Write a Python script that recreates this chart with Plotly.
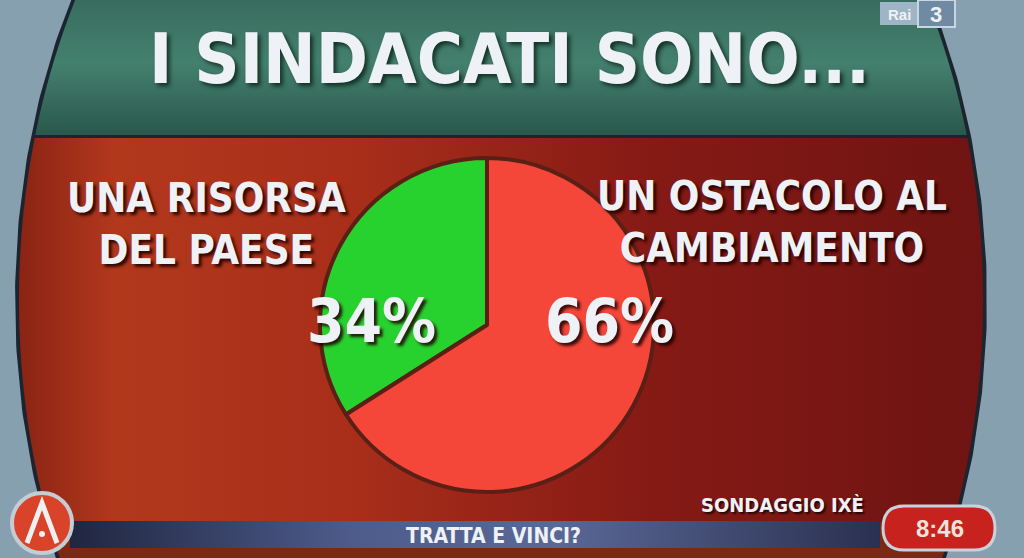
import numpy as np
import plotly.graph_objects as go

# ---------------- data ----------------
title = "I SINDACATI SONO..."
categories = ["UNA RISORSA DEL PAESE", "UN OSTACOLO AL CAMBIAMENTO"]
label_lines = [["UNA RISORSA", "DEL PAESE"], ["UN OSTACOLO AL", "CAMBIAMENTO"]]
values = [34, 66]
slice_colors = ["#27d22e", "#f4473a"]
source = "SONDAGGIO IXÈ"
bottom_text = "TRATTA E VINCI?"
clock = "8:46"

W, H = 1024, 558
FONT = "DejaVu Sans Condensed, Liberation Sans Narrow, Arial Narrow, sans-serif"
WHITE = "#eef2f6"
SHADOW = "3px 3px 3px rgba(30,0,0,0.85)"

fig = go.Figure()

# ---------------- decorative background (pixel axes) ----------------
cx, cy, a, b = 501, 300, 482, 640


def ell_x(y):
    return a * np.sqrt(np.clip(1 - ((y - cy) / b) ** 2, 0, 1))


def band(y0, y1, n=60):
    ys = np.linspace(y0, y1, n)
    dx = ell_x(ys)
    xs = np.concatenate([cx - dx, (cx + dx)[::-1]])
    yy = np.concatenate([ys, ys[::-1]])
    return xs, yy


# dark rim of the frame
xs, ys = band(-10, 570, 120)
fig.add_trace(go.Scatter(x=xs, y=ys, fill="toself", mode="lines",
                         line=dict(color="#1c2430", width=8),
                         fillcolor="#1c2430", hoverinfo="skip", showlegend=False))
# green title area
xs, ys = band(-10, 135)
fig.add_trace(go.Scatter(x=xs, y=ys, fill="toself", mode="none",
                         fillgradient=dict(type="vertical", colorscale=[[0, "#2a584c"], [0.5, "#44806e"], [1, "#366a5c"]]),
                         hoverinfo="skip", showlegend=False))
# red panel
xs, ys = band(138, 522)
fig.add_trace(go.Scatter(x=xs, y=ys, fill="toself", mode="none",
                         fillgradient=dict(type="horizontal",
                                           colorscale=[[0, "#8a2414"], [0.1, "#b2381c"], [0.35, "#a82e1a"],
                                                       [0.65, "#861a15"], [1, "#6e1412"]]),
                         hoverinfo="skip", showlegend=False))
# bottom strip
xs, ys = band(522, 570)
fig.add_trace(go.Scatter(x=xs, y=ys, fill="toself", mode="none", fillcolor="#7a2a14",
                         hoverinfo="skip", showlegend=False))
# bottom bar
bx = [70, 880, 880, 70, 70]
by = [521, 521, 548, 548, 521]
fig.add_trace(go.Scatter(x=bx, y=by, fill="toself", mode="none",
                         fillgradient=dict(type="horizontal",
                                           colorscale=[[0, "#202640"], [0.35, "#4e5c8c"], [0.6, "#5a6896"], [1, "#2a3050"]]),
                         hoverinfo="skip", showlegend=False))

# ---------------- pie ----------------
# first slice (green) ends at 12 o'clock, lying on the left side
start_rot = -360.0 * values[0] / sum(values)
fig.add_trace(go.Pie(
    labels=categories, values=values, sort=False, direction="clockwise", rotation=start_rot,
    marker=dict(colors=slice_colors, line=dict(color="#5a2016", width=4)),
    textinfo="none", hoverinfo="label+percent", showlegend=False,
    domain=dict(x=[320 / W, 654 / W], y=[1 - 492 / H, 1 - 158 / H]),
))

# ---------------- shapes ----------------
shapes = []
# logo
shapes.append(dict(type="circle", xref="x", yref="y", x0=12, x1=72, y0=493, y1=553,
                   fillcolor="#d8432a", line=dict(color="#c4ccd4", width=4), layer="above"))
shapes.append(dict(type="path", xref="x", yref="y", path="M 27,543 L 42,503 L 57,543",
                   line=dict(color="#f0f0f0", width=5), layer="above"))
shapes.append(dict(type="circle", xref="x", yref="y", x0=39, x1=45, y0=531, y1=537,
                   fillcolor="#f0f0f0", line=dict(width=0), layer="above"))
# clock pill
shapes.append(dict(type="path", xref="x", yref="y",
                   path="M 904,506 L 974,506 Q 995,506 995,528 Q 995,550 974,550 L 904,550 "
                        "Q 883,550 883,528 Q 883,506 904,506 Z",
                   fillcolor="#c8221e", line=dict(color="#c8d2dc", width=3), layer="above"))
# Rai 3 logo
shapes.append(dict(type="rect", xref="x", yref="y", x0=880, x1=918, y0=2, y1=25,
                   fillcolor="#9fb4c4", line=dict(width=0), layer="above"))
shapes.append(dict(type="rect", xref="x", yref="y", x0=918, x1=955, y0=0, y1=27,
                   fillcolor="#6f8aa2", line=dict(color="#c8d6e2", width=2), layer="above"))

# ---------------- annotations ----------------
ann = []
ann.append(dict(text=f"<b>{title}</b>", x=509, y=59, xref="x", yref="y", showarrow=False,
                font=dict(family=FONT, size=70, color=WHITE, shadow="3px 3px 4px rgba(0,20,10,0.7)")))

label_pos = [(206, 224), (772, 222)]
for lines, (lx, ly) in zip(label_lines, label_pos):
    ann.append(dict(text="<br>".join(f"<b>{ln}</b>" for ln in lines), x=lx, y=ly, xref="x", yref="y",
                    showarrow=False, align="center",
                    font=dict(family=FONT, size=40, color=WHITE, shadow=SHADOW)))

pct_pos = [(371, 321), (609, 321)]
for v, (px, py) in zip(values, pct_pos):
    ann.append(dict(text=f"<b>{v}%</b>", x=px, y=py, xref="x", yref="y", showarrow=False,
                    font=dict(family=FONT, size=60, color=WHITE, shadow=SHADOW)))

ann.append(dict(text=f"<b>{source}</b>", x=782, y=505, xref="x", yref="y", showarrow=False,
                font=dict(family=FONT, size=20, color=WHITE, shadow="2px 2px 2px rgba(0,0,0,0.7)")))
ann.append(dict(text=f"<b>{bottom_text}</b>", x=493, y=536, xref="x", yref="y", showarrow=False,
                font=dict(family=FONT, size=21, color=WHITE)))
ann.append(dict(text=f"<b>{clock}</b>", x=940, y=528, xref="x", yref="y", showarrow=False,
                font=dict(family="Liberation Sans, Arial, sans-serif", size=24, color="#ece4dc")))
ann.append(dict(text="<b>Rai</b>", x=899, y=14, xref="x", yref="y", showarrow=False,
                font=dict(family="Liberation Sans, Arial, sans-serif", size=15, color="#eef2f6")))
ann.append(dict(text="<b>3</b>", x=936, y=14, xref="x", yref="y", showarrow=False,
                font=dict(family="Liberation Sans, Arial, sans-serif", size=22, color="#eef2f6")))

fig.update_layout(
    width=W, height=H, margin=dict(l=0, r=0, t=0, b=0),
    paper_bgcolor="#86a0b0", plot_bgcolor="rgba(0,0,0,0)",
    xaxis=dict(range=[0, W], visible=False, fixedrange=True),
    yaxis=dict(range=[H, 0], visible=False, fixedrange=True),
    shapes=shapes, annotations=ann, showlegend=False,
)

fig.write_html("out.html", config={"displayModeBar": False},
               post_script="document.body.style.margin='0';document.body.style.background='#86a0b0';")
